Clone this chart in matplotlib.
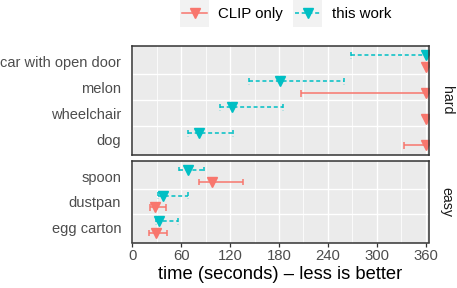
import matplotlib
matplotlib.use("Agg")
import matplotlib.pyplot as plt
from matplotlib.patches import Rectangle
from matplotlib.lines import Line2D

plt.rcParams['font.family'] = ['Liberation Sans', 'DejaVu Sans']

# ---- data ----
hard_cats = ["car with open door", "melon", "wheelchair", "dog"]
clip_hard = [360, 360, 360, 360]
clip_hard_lo = [360, 206.6, 360, 333.6]
clip_hard_hi = [360, 360, 360, 360]
ours_hard = [360, 181.2, 122.6, 81.8]
ours_hard_lo = [267.9, 143.5, 107.6, 68.7]
ours_hard_hi = [360, 260.0, 185.0, 123.9]

easy_cats = ["spoon", "dustpan", "egg carton"]
clip_easy = [98.1, 27.8, 28.7]
clip_easy_lo = [81.8, 21.7, 20.9]
clip_easy_hi = [135.4, 41.3, 42.9]
ours_easy = [68.7, 37.3, 33.1]
ours_easy_lo = [57.3, 31.9, 29.1]
ours_easy_hi = [88.0, 68.0, 56.4]

x_ticks = [0, 60, 120, 180, 240, 300, 360]
series_labels = ["CLIP only", "this work"]

# ---- style ----
RED = "#F8766D"
CYAN = "#00BFC4"
DASH = (0, (2.6, 1.8))
W, H = 457, 288
fig = plt.figure(figsize=(W / 100, H / 100), dpi=100)


def px_axes(left, top, right, bottom):
    return fig.add_axes([left / W, 1 - bottom / H, (right - left) / W, (bottom - top) / H])


DODGE = 0.23
CAP = 0.13


def panel(ax, cats, clip, clo, chi, ours, olo, ohi, strip):
    n = len(cats)
    ax.set_facecolor("#EBEBEB")
    ax.set_xlim(0, 363.6)
    ax.set_ylim(n - 1 + 0.6, -0.6)
    # grid
    for v in x_ticks:
        ax.axvline(v, color="white", lw=1.0, zorder=0)
    for v in range(30, 361, 60):
        ax.axvline(v, color="white", lw=0.55, zorder=0)
    for i in range(n - 1):
        ax.axhline(i + 0.5, color="white", lw=1.0, zorder=0)
    yc = [i + DODGE for i in range(n)]
    yo = [i - DODGE for i in range(n)]
    # CLIP only
    ax.hlines(yc, clo, chi, color=RED, lw=1.1, zorder=2)
    ax.vlines(clo, [y - CAP for y in yc], [y + CAP for y in yc], color=RED, lw=1.1, zorder=2)
    ax.vlines(chi, [y - CAP for y in yc], [y + CAP for y in yc], color=RED, lw=1.1, zorder=2)
    ax.plot(clip, yc, ls="none", marker="v", ms=6.5, color=RED, mec=RED, zorder=3)
    # this work
    ax.hlines(yo, olo, ohi, color=CYAN, lw=1.1, linestyles=[DASH], zorder=2)
    ax.vlines(olo, [y - CAP for y in yo], [y + CAP for y in yo], color=CYAN, lw=1.1, linestyles=[DASH], zorder=2)
    ax.vlines(ohi, [y - CAP for y in yo], [y + CAP for y in yo], color=CYAN, lw=1.1, linestyles=[DASH], zorder=2)
    ax.plot(ours, yo, ls="none", marker="v", ms=6.5, color=CYAN, mec=CYAN, zorder=3)

    ax.set_yticks(range(n))
    ax.set_yticklabels(cats)
    ax.tick_params(axis="y", length=0, pad=8, labelsize=10.5, labelcolor="#4D4D4D")
    for s in ax.spines.values():
        s.set_color("#333333")
        s.set_linewidth(1.1)
        s.set_zorder(5)
    ax.annotate(strip, xy=(1, 0.5), xycoords="axes fraction", xytext=(13, 0),
                textcoords="offset points", rotation=-90, ha="center", va="center",
                fontsize=10.2, color="#1A1A1A")


ax1 = px_axes(132.3, 45.7, 428.7, 155.0)
ax2 = px_axes(132.3, 160.7, 428.7, 242.5)
panel(ax1, hard_cats, clip_hard, clip_hard_lo, clip_hard_hi,
      ours_hard, ours_hard_lo, ours_hard_hi, "hard")
panel(ax2, easy_cats, clip_easy, clip_easy_lo, clip_easy_hi,
      ours_easy, ours_easy_lo, ours_easy_hi, "easy")

ax1.set_xticks(x_ticks)
ax1.tick_params(axis="x", length=0, labelbottom=False)
ax2.set_xticks(x_ticks)
ax2.set_xticklabels([str(v) for v in x_ticks])
ax2.tick_params(axis="x", length=3, width=0.9, color="#333333", pad=2,
                labelsize=10.7, labelcolor="#4D4D4D")
ax2.set_xlabel("time (seconds) – less is better", fontsize=13.2, color="black", labelpad=2)

# ---- legend ----
lax = fig.add_axes([0, 0, 1, 1], zorder=-1)
lax.set_xlim(0, W)
lax.set_ylim(H, 0)
lax.axis("off")
keys = [(180.0, RED, "-"), (293.3, CYAN, DASH)]
for (kx, col, ls), lab in zip(keys, series_labels):
    lax.add_patch(Rectangle((kx, 0), 29, 27, facecolor="#F2F2F2", edgecolor="none"))
    lax.add_line(Line2D([kx + 2, kx + 27], [13.3, 13.3], color=col, lw=1.1, ls=ls))
    lax.plot([kx + 14.5], [13.3], marker="v", ms=6.5, color=col)
    lax.text(kx + 38.3, 13.6, lab, fontsize=10.8, color="black", ha="left", va="center")

fig.savefig("out.png", dpi=100)
